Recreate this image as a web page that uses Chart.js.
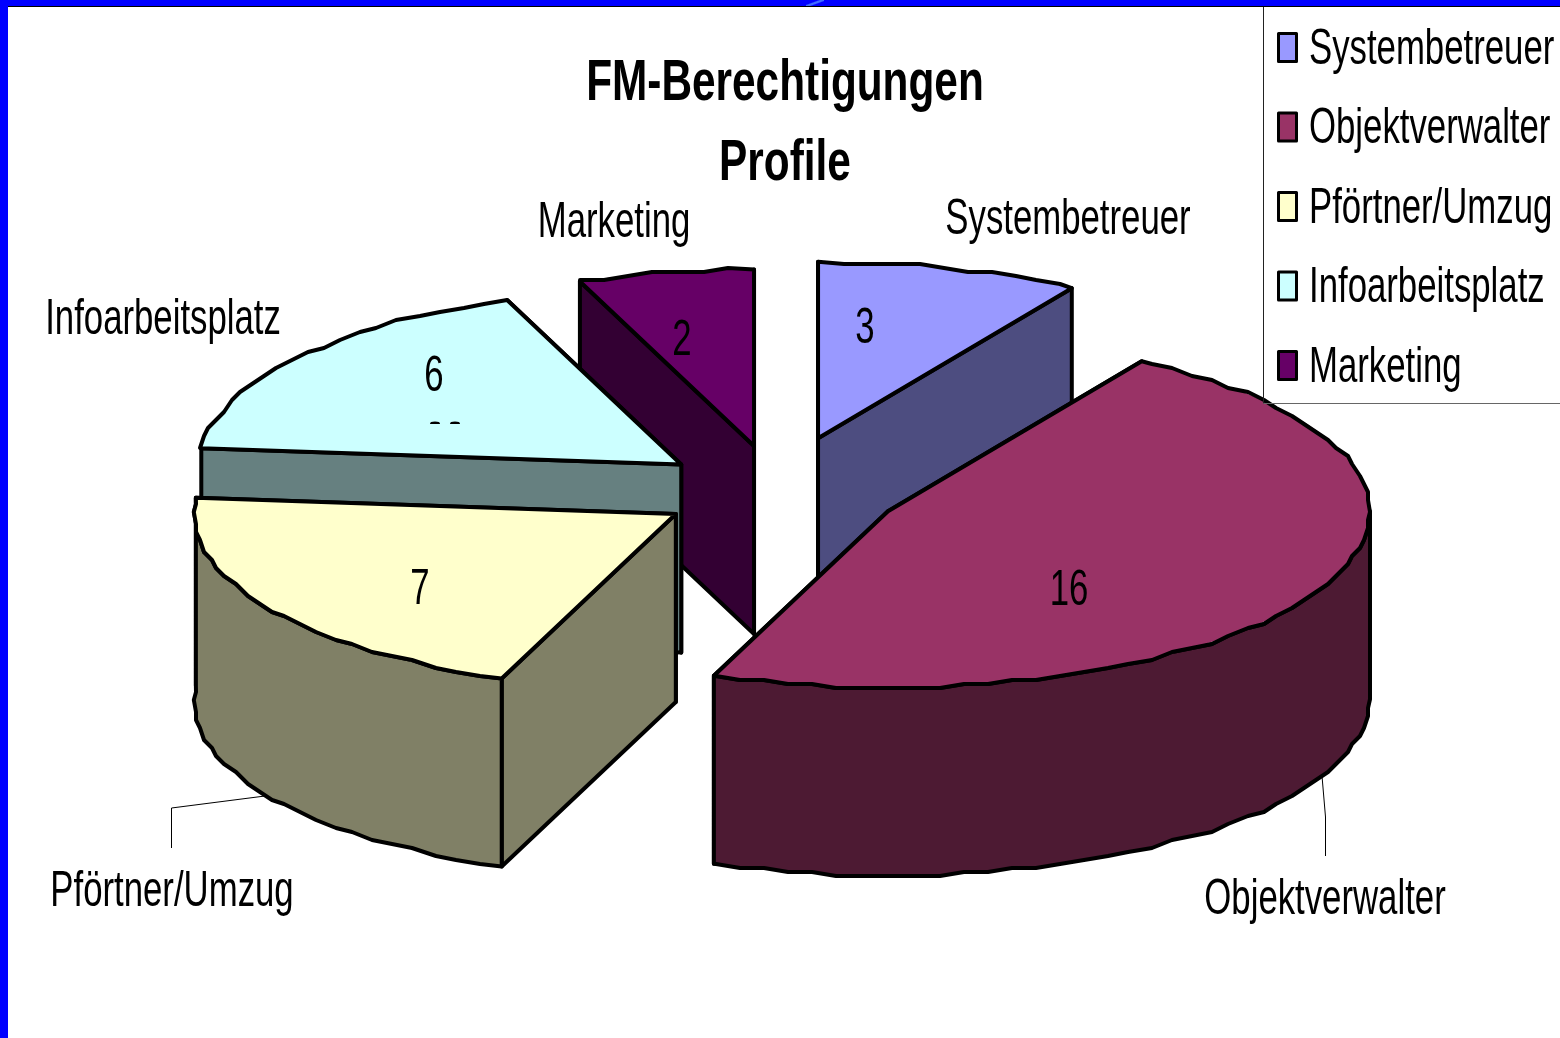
<!DOCTYPE html>
<html><head><meta charset="utf-8">
<style>
html,body{margin:0;padding:0;background:#fff;width:1560px;height:1038px;overflow:hidden}
#wrap{position:relative;width:1560px;height:1038px}
canvas{position:absolute;left:0;top:0}
.f{position:absolute;background:#0000ff}
</style>
<script src="https://cdn.jsdelivr.net/npm/chart.js@4"></script>
</head><body><div id="wrap"><canvas id="c" width="1560" height="1038"></canvas>
<div class="f" style="left:0;top:0;width:1560px;height:6px;border-bottom:1px solid #000"></div>
<div class="f" style="left:0;top:0;width:8px;height:1038px"></div>
<div style="position:absolute;left:806px;top:0;width:18px;height:6px;background:linear-gradient(160deg,transparent 35%,#3f6cff 45%,#3f6cff 55%,transparent 65%)"></div>
</div>
<script>
const categories=['Systembetreuer','Objektverwalter','Pförtner/Umzug','Infoarbeitsplatz','Marketing'];
const values=[3,16,7,6,2];
const explode=[150,124,119,120,125];
const topColors=['#9999ff','#993366','#ffffcc','#ccffff','#660066'];
const wallColors=['#4d4d80','#4d1a33','#808066','#668080','#330033'];
const titleLines=['FM-Berechtigungen','Profile'];
const FONT='"Liberation Sans",Arial,sans-serif';
const CX=777,CY=491,R=482,K=0.366,DEPTH=188,SNAP=4,SX=0.695,TSX=0.73,FS=50;
const valueAnchors=[[865,329],[1069,591],[420,590],[434,377],[682,341]];
const nameAnchors=[[1068,220],[1325,900],[172,892],[163,320],[614,223]];
const order=[0,4,3,2,1];
const snap=v=>Math.round(v/SNAP)*SNAP;
const STEP=Math.PI/60;
function pt(arc,a,d){return [arc.x+R*Math.cos(a),CY+(arc.y-CY+R*Math.sin(a))*K+(d||0)];}
function apex(arc,d){return [arc.x,CY+(arc.y-CY)*K+(d||0)];}
function curve(arc,a0,a1,d){const out=[pt(arc,a0,d)];
 for(let k=Math.ceil(a0/STEP+0.01);k*STEP<a1-0.001;k++){const p=pt(arc,k*STEP,0);
   const x=Math.min(arc.x+R,Math.max(arc.x-R,snap(p[0])));out.push([x,snap(p[1])+(d||0)]);}
 out.push(pt(arc,a1,d));return out;}
function poly(ctx,pts,fill,lw){ctx.beginPath();pts.forEach((p,i)=>i?ctx.lineTo(p[0],p[1]):ctx.moveTo(p[0],p[1]));ctx.closePath();
 if(fill){ctx.fillStyle=fill;ctx.fill();}ctx.lineWidth=lw||4;ctx.strokeStyle='#000';ctx.lineJoin='round';ctx.stroke();}
function squeezed(box,pivot,sx){const d=box.draw;box.draw=function(){const c=box.ctx;c.save();c.translate(pivot,0);c.scale(sx,1);c.translate(-pivot,0);d.apply(box,arguments);c.restore();};}
function label(ctx,t,x,y){ctx.save();ctx.translate(x,y);ctx.scale(SX,1);ctx.fillText(t,0,0);ctx.restore();}
const pie3d={id:'pie3d',
 afterDatasetsUpdate(chart){chart.getDatasetMeta(0).data.forEach((arc,i)=>{const mid=(arc.startAngle+arc.endAngle)/2;
   arc.x=CX+Math.cos(mid)*explode[i];arc.y=CY+Math.sin(mid)*explode[i];});},
 afterLayout(chart){const l=chart.legend;l.left=1244.5;l.right=2000;l.top=-4.5;l.bottom=1038;
   const t=chart.titleBlock;t.left+=5;t.right+=5;
   if(!chart.$squeezed){chart.$squeezed=true;squeezed(l,1309,SX);squeezed(t,785,TSX);}},
 beforeDatasetsDraw(chart){const ctx=chart.ctx,arcs=chart.getDatasetMeta(0).data;
   order.forEach(i=>{const arc=arcs[i];const a0=arc.startAngle,a1=arc.endAngle;const c=wallColors[i];
     const A=apex(arc),B=apex(arc,DEPTH);
     const edges=[a0,a1].map(a=>({a,p:pt(arc,a)})).sort((u,v)=>u.p[1]-v.p[1]);
     edges.forEach(e=>poly(ctx,[A,e.p,pt(arc,e.a,DEPTH),B],c));
     if(a0<Math.PI&&a1>0){const lo=Math.max(a0,0),hi=a1;
       const top=curve(arc,lo,hi,0),bot=curve(arc,lo,hi,DEPTH).reverse();poly(ctx,top.concat(bot),c);}
   });
   ctx.save();ctx.translate(0,CY);ctx.scale(1,K);ctx.translate(0,-CY);},
 afterDatasetsDraw(chart){const ctx=chart.ctx,arcs=chart.getDatasetMeta(0).data;ctx.restore();
   order.forEach(i=>{const arc=arcs[i];poly(ctx,[apex(arc)].concat(curve(arc,arc.startAngle,arc.endAngle,0)));});
   // leader lines
   ctx.lineWidth=1;ctx.strokeStyle='#000';
   ctx.beginPath();ctx.moveTo(265,796);ctx.lineTo(171.5,808);ctx.lineTo(171.5,848);ctx.stroke();
   ctx.beginPath();ctx.moveTo(1322,776);ctx.lineTo(1325.5,817);ctx.lineTo(1325.5,856);ctx.stroke();
   // small residue under the "6"
   ctx.fillStyle='#000';
   [[435],[455]].forEach(([x])=>{ctx.beginPath();ctx.ellipse(x,424,5,2.4,0,Math.PI,0);ctx.fill();});
   // labels
   ctx.fillStyle='#000';ctx.textAlign='center';ctx.textBaseline='middle';ctx.font=FS+'px '+FONT;
   values.forEach((v,i)=>label(ctx,String(v),valueAnchors[i][0],valueAnchors[i][1]));
   categories.forEach((n,i)=>label(ctx,n,nameAnchors[i][0],nameAnchors[i][1]));
   // legend frame and swatches
   ctx.lineWidth=1;ctx.beginPath();ctx.moveTo(1263.5,7);ctx.lineTo(1263.5,403.5);ctx.strokeStyle='#222';ctx.stroke();
   ctx.beginPath();ctx.moveTo(1263.5,403.5);ctx.lineTo(1560,403.5);ctx.strokeStyle='#666';ctx.stroke();
   categories.forEach((n,i)=>{ctx.fillStyle=topColors[i];ctx.strokeStyle='#000';ctx.lineWidth=3;
     const y=47.5+i*79.5;ctx.fillRect(1278.5,y-14,18,28);ctx.strokeRect(1278.5,y-14,18,28);});
 }};
new Chart(document.getElementById('c'),{type:'pie',plugins:[pie3d],
 data:{labels:categories,datasets:[{data:values,backgroundColor:topColors,borderWidth:0,clip:false}]},
 options:{responsive:false,animation:false,radius:R,events:[],
  plugins:{tooltip:{enabled:false},
   title:{display:true,text:titleLines,color:'#000',font:{family:FONT,size:58,weight:'bold',lineHeight:1.38},padding:{top:44,bottom:0}},
   legend:{display:true,position:'right',align:'start',
    labels:{boxWidth:10,boxHeight:10,padding:29.5,color:'#000',font:{family:FONT,size:FS,lineHeight:1.2},
     generateLabels(){return categories.map((t,i)=>({text:t,fillStyle:'rgba(0,0,0,0)',strokeStyle:'rgba(0,0,0,0)',lineWidth:0,index:i,datasetIndex:0,hidden:false}));}}}}
 }});
</script></body></html>
